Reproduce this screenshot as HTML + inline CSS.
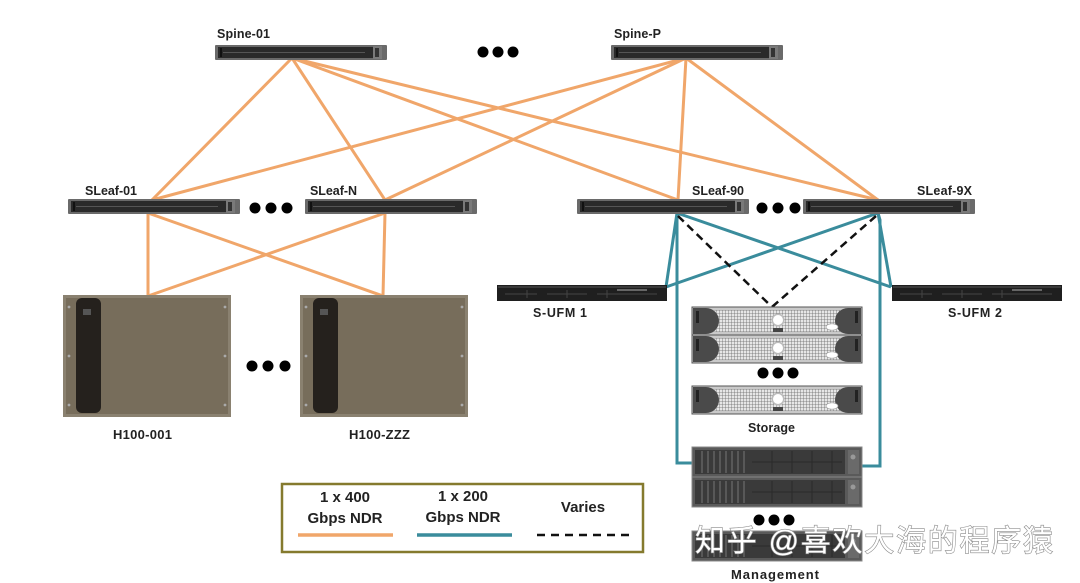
<!DOCTYPE html>
<html>
<head>
<meta charset="utf-8">
<style>
html,body{margin:0;padding:0;background:#fff;}
svg{display:block;}
text{font-family:"Liberation Sans","Noto Sans CJK SC",sans-serif;font-weight:bold;fill:#222;}
</style>
</head>
<body>
<svg width="1080" height="583" viewBox="0 0 1080 583" xmlns="http://www.w3.org/2000/svg">
<defs>
  <pattern id="grid" width="3" height="3" patternUnits="userSpaceOnUse">
    <rect width="3" height="3" fill="#e6e6e6"/>
    <path d="M0 0H3M0 0V3" stroke="#6a6a6a" stroke-width="0.8"/>
  </pattern>
  <g id="sw">
    <rect x="0" y="0" width="172" height="15" fill="#6a6a6a" rx="1"/>
    <rect x="3" y="2" width="162" height="11" fill="#2a2a2a"/>
    <line x1="8" y1="7.5" x2="150" y2="7.5" stroke="#555" stroke-width="1"/>
    <line x1="6" y1="3" x2="6" y2="12" stroke="#111" stroke-width="2"/>
    <rect x="158" y="1" width="9" height="13" fill="#7a7a7a"/>
    <rect x="160" y="3" width="4" height="9" fill="#333"/>
  </g>
  <g id="stor">
    <rect x="0" y="0" width="170" height="28" fill="#c9c9c9" stroke="#555" stroke-width="1"/>
    <rect x="22" y="3" width="126" height="22" fill="url(#grid)"/>
    <path d="M1 1 H14 A13 13 0 0 1 14 27 H1 Z" fill="#4a4a4a"/>
    <path d="M169 1 H156 A13 13 0 0 0 156 27 H169 Z" fill="#4a4a4a"/>
    <rect x="4" y="4" width="3" height="12" fill="#222"/>
    <rect x="163" y="4" width="3" height="12" fill="#222"/>
    <circle cx="86" cy="13" r="6.5" fill="#bbb"/>
    <circle cx="86" cy="13" r="5" fill="#fff"/>
    <rect x="81" y="21" width="10" height="4" fill="#444"/>
    <ellipse cx="140" cy="20" rx="6" ry="3.2" fill="#fff" stroke="#999" stroke-width="0.6"/>
  </g>
  <g id="mgmt">
    <rect x="0" y="0" width="170" height="30" fill="#5a5a5a" stroke="#888" stroke-width="1"/>
    <rect x="3" y="3" width="150" height="24" fill="#3a3a3a"/>
    <g stroke="#777" stroke-width="1">
      <line x1="10" y1="4" x2="10" y2="26"/><line x1="16" y1="4" x2="16" y2="26"/>
      <line x1="22" y1="4" x2="22" y2="26"/><line x1="28" y1="4" x2="28" y2="26"/>
      <line x1="34" y1="4" x2="34" y2="26"/><line x1="40" y1="4" x2="40" y2="26"/>
      <line x1="46" y1="4" x2="46" y2="26"/><line x1="52" y1="4" x2="52" y2="26"/>
    </g>
    <g stroke="#2a2a2a" stroke-width="1">
      <line x1="60" y1="15" x2="150" y2="15"/>
      <line x1="80" y1="4" x2="80" y2="26"/><line x1="100" y1="4" x2="100" y2="26"/>
      <line x1="120" y1="4" x2="120" y2="26"/><line x1="140" y1="4" x2="140" y2="26"/>
    </g>
    <rect x="156" y="3" width="11" height="24" fill="#6a6a6a"/>
    <circle cx="161" cy="10" r="2.5" fill="#999"/>
  </g>
  <g id="ufm">
    <rect x="0" y="0" width="170" height="16" fill="#1f1f1f"/>
    <rect x="1" y="1" width="168" height="2" fill="#3a3a3a"/>
    <g stroke="#444" stroke-width="1">
      <line x1="8" y1="9" x2="40" y2="9"/><line x1="50" y1="9" x2="90" y2="9"/>
      <line x1="100" y1="9" x2="160" y2="9"/>
      <line x1="30" y1="5" x2="30" y2="13"/><line x1="70" y1="5" x2="70" y2="13"/>
      <line x1="110" y1="5" x2="110" y2="13"/>
    </g>
    <rect x="120" y="4" width="30" height="2" fill="#666"/>
  </g>
  <g id="h100">
    <rect x="0" y="0" width="168" height="122" fill="#8a8170"/>
    <rect x="3" y="3" width="162" height="116" fill="#776d5b"/>
    <rect x="13" y="3" width="25" height="115" rx="6" fill="#25211d"/>
    <rect x="20" y="14" width="8" height="6" fill="#555"/>
    <g fill="#aaa"><circle cx="6" cy="12" r="1.4"/><circle cx="6" cy="61" r="1.4"/><circle cx="6" cy="110" r="1.4"/>
    <circle cx="162" cy="12" r="1.4"/><circle cx="162" cy="61" r="1.4"/><circle cx="162" cy="110" r="1.4"/></g>
  </g>
</defs>

<!-- orange links spine -> leaf -->
<g stroke="#f0a66a" stroke-width="3" fill="none" stroke-linecap="round">
  <line x1="292" y1="58" x2="152" y2="200"/>
  <line x1="292" y1="58" x2="385" y2="200"/>
  <line x1="292" y1="58" x2="678" y2="200"/>
  <line x1="292" y1="58" x2="878" y2="200"/>
  <line x1="686" y1="58" x2="152" y2="200"/>
  <line x1="686" y1="58" x2="385" y2="200"/>
  <line x1="686" y1="58" x2="678" y2="200"/>
  <line x1="686" y1="58" x2="878" y2="200"/>
  <line x1="148" y1="213" x2="148" y2="296"/>
  <line x1="148" y1="213" x2="383" y2="296"/>
  <line x1="385" y1="213" x2="383" y2="296"/>
  <line x1="385" y1="213" x2="148" y2="296"/>
</g>

<!-- teal links -->
<g stroke="#3a8c9c" stroke-width="3" fill="none" stroke-linejoin="miter">
  <line x1="677" y1="213" x2="666" y2="287"/>
  <line x1="677" y1="213" x2="891" y2="287"/>
  <polyline points="677,213 677,463 693,463"/>
  <line x1="878" y1="213" x2="666" y2="287"/>
  <line x1="878" y1="213" x2="891" y2="287"/>
  <polyline points="878,213 880,220 880,466 862,466"/>
</g>

<!-- dashed -->
<g stroke="#111" stroke-width="2.5" stroke-dasharray="8,5" fill="none">
  <line x1="678" y1="216" x2="772" y2="307"/>
  <line x1="876" y1="216" x2="772" y2="307"/>
</g>

<!-- switches -->
<use href="#sw" x="215" y="45"/>
<use href="#sw" x="611" y="45"/>
<use href="#sw" x="68" y="199"/>
<use href="#sw" x="305" y="199"/>
<use href="#sw" x="577" y="199"/>
<use href="#sw" x="803" y="199"/>

<!-- UFM -->
<use href="#ufm" x="497" y="285"/>
<use href="#ufm" x="892" y="285"/>

<!-- H100 -->
<use href="#h100" x="63" y="295"/>
<use href="#h100" x="300" y="295"/>

<!-- Storage -->
<use href="#stor" x="692" y="307"/>
<use href="#stor" x="692" y="335"/>
<use href="#stor" x="692" y="386"/>

<!-- Management -->
<use href="#mgmt" x="692" y="447"/>
<use href="#mgmt" x="692" y="477"/>
<use href="#mgmt" x="692" y="531"/>

<!-- dots -->
<g fill="#000">
  <circle cx="483" cy="52" r="5.5"/><circle cx="498" cy="52" r="5.5"/><circle cx="513" cy="52" r="5.5"/>
  <circle cx="255" cy="208" r="5.5"/><circle cx="271" cy="208" r="5.5"/><circle cx="287" cy="208" r="5.5"/>
  <circle cx="762" cy="208" r="5.5"/><circle cx="778" cy="208" r="5.5"/><circle cx="795" cy="208" r="5.5"/>
  <circle cx="252" cy="366" r="5.5"/><circle cx="268" cy="366" r="5.5"/><circle cx="285" cy="366" r="5.5"/>
  <circle cx="763" cy="373" r="5.5"/><circle cx="778" cy="373" r="5.5"/><circle cx="793" cy="373" r="5.5"/>
  <circle cx="759" cy="520" r="5.5"/><circle cx="774" cy="520" r="5.5"/><circle cx="789" cy="520" r="5.5"/>
</g>

<!-- labels -->
<g font-size="12.5">
  <text x="217" y="38" textLength="53">Spine-01</text>
  <text x="614" y="38" textLength="47">Spine-P</text>
  <text x="85" y="195" textLength="52">SLeaf-01</text>
  <text x="310" y="195" textLength="47">SLeaf-N</text>
  <text x="692" y="195" textLength="52">SLeaf-90</text>
  <text x="917" y="195" textLength="55">SLeaf-9X</text>
  <text x="533" y="317" textLength="54">S-UFM 1</text>
  <text x="948" y="317" textLength="54">S-UFM 2</text>
  <text x="113" y="439" font-size="13" textLength="59">H100-001</text>
  <text x="349" y="439" font-size="13" textLength="61">H100-ZZZ</text>
  <text x="748" y="432" textLength="47">Storage</text>
  <text x="731" y="579" font-size="13" textLength="88">Management</text>
</g>

<!-- legend -->
<rect x="282" y="484" width="361" height="68" fill="#fff" stroke="#857a2e" stroke-width="2.5"/>
<g font-size="15" text-anchor="middle">
  <text x="345" y="502">1 x 400</text>
  <text x="345" y="523">Gbps NDR</text>
  <text x="463" y="501">1 x 200</text>
  <text x="463" y="522">Gbps NDR</text>
  <text x="583" y="512">Varies</text>
</g>
<line x1="298" y1="535" x2="393" y2="535" stroke="#f0a66a" stroke-width="3.5"/>
<line x1="417" y1="535" x2="512" y2="535" stroke="#3a8c9c" stroke-width="3.5"/>
<line x1="537" y1="535" x2="632" y2="535" stroke="#111" stroke-width="2.5" stroke-dasharray="8,6"/>

<!-- watermark -->
<text x="695" y="551" font-size="30" textLength="358" style="fill:#fff;stroke:#8a8a8a;stroke-width:1.2;paint-order:stroke;font-weight:normal;">知乎 @喜欢大海的程序猿</text>
</svg>
</body>
</html>
